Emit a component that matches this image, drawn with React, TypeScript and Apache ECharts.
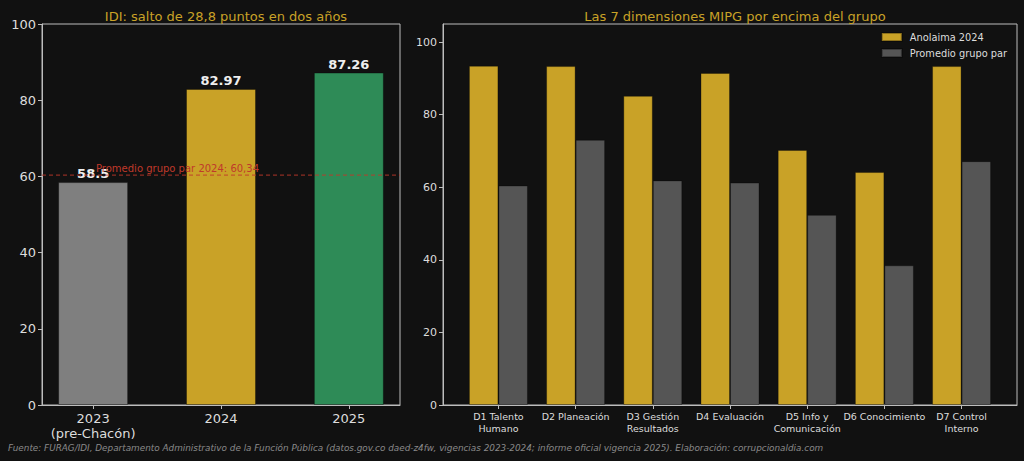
import React, { useEffect, useRef } from "react";
import * as echarts from "echarts";

const yearLabels = ["2023\n(pre-Chacón)", "2024", "2025"];
const idiValues = [58.5, 82.97, 87.26];
const idiColors = ["#7f7f7f", "#c9a227", "#2e8b57"];
const peerAverage2024 = 60.34;
const peerAverageLabel = "Promedio grupo par 2024: 60,34";

const dimensionLabels = [
  "D1 Talento\nHumano",
  "D2 Planeación",
  "D3 Gestión\nResultados",
  "D4 Evaluación",
  "D5 Info y\nComunicación",
  "D6 Conocimiento",
  "D7 Control\nInterno",
];
const anolaimaValues = [93.5, 93.4, 85.2, 91.5, 70.3, 64.2, 93.4];
const peerValues = [60.5, 73.1, 61.9, 61.3, 52.4, 38.5, 67.2];
const leftTicks = [0, 20, 40, 60, 80, 100];
const rightTicks = [0, 20, 40, 60, 80, 100];

const FONT = "DejaVu Sans";
const GOLD = "#c9a227";
const AXIS = "#bdbdbd";
const TEXT = "#dddddd";
const RED = "#c0392b";

const LEFT_MIN = -0.4;
const LEFT_MAX = 2.4;

export default function App() {
  const ref = useRef<HTMLDivElement>(null);
  useEffect(() => {
    document.body.style.margin = "0";
    document.body.style.background = "#111111";
    if (!ref.current) return;
    const chart = echarts.init(ref.current, undefined, { renderer: "svg" });
    const idx3 = idiValues.map((_, i) => i);
    const idx7 = dimensionLabels.map((_, i) => i);
    chart.setOption({
      animation: false,
      backgroundColor: "#111111",
      textStyle: { fontFamily: FONT },
      title: [
        {
          text: "IDI: salto de 28,8 puntos en dos años",
          left: 221,
          top: 5,
          textAlign: "center",
          textStyle: { color: GOLD, fontSize: 13, fontWeight: "normal", fontFamily: FONT },
        },
        {
          text: "Las 7 dimensiones MIPG por encima del grupo",
          left: 730,
          top: 5,
          textAlign: "center",
          textStyle: { color: GOLD, fontSize: 13, fontWeight: "normal", fontFamily: FONT },
        },
      ],
      legend: {
        data: ["Anolaima 2024", "Promedio grupo par"],
        orient: "vertical",
        right: 12,
        top: 27,
        itemWidth: 20,
        itemHeight: 8,
        itemGap: 6,
        icon: "rect",
        textStyle: { color: TEXT, fontSize: 9.8, fontFamily: FONT, padding: [0, 0, 0, 3] },
      },
      grid: [
        {
          left: 42,
          top: 24,
          width: 358,
          height: 381,
          show: true,
          borderColor: AXIS,
          borderWidth: 1,
          backgroundColor: "#111111",
        },
        {
          left: 443,
          top: 24,
          width: 574,
          height: 381,
          show: true,
          borderColor: AXIS,
          borderWidth: 1,
          backgroundColor: "#111111",
        },
      ],
      xAxis: [
        {
          gridIndex: 0,
          type: "value",
          min: LEFT_MIN,
          max: LEFT_MAX,
          splitLine: { show: false },
          axisLine: { show: true, onZero: false, lineStyle: { color: AXIS } },
          axisTick: { show: true, customValues: idx3, length: 4, lineStyle: { color: AXIS } },
          axisLabel: {
            customValues: idx3,
            formatter: (v: number) => yearLabels[Math.round(v)] ?? "",
            color: TEXT,
            fontSize: 13,
            lineHeight: 15,
            margin: 6,
            fontFamily: FONT,
          },
        },
        {
          gridIndex: 1,
          type: "value",
          min: -0.718,
          max: 6.718,
          splitLine: { show: false },
          axisLine: { show: true, onZero: false, lineStyle: { color: AXIS } },
          axisTick: { show: true, customValues: idx7, length: 4, lineStyle: { color: AXIS } },
          axisLabel: {
            customValues: idx7,
            formatter: (v: number) => dimensionLabels[Math.round(v)] ?? "",
            color: TEXT,
            fontSize: 9.5,
            lineHeight: 11.5,
            margin: 6,
            fontFamily: FONT,
          },
        },
      ],
      yAxis: [
        {
          gridIndex: 0,
          type: "value",
          min: 0,
          max: 100,
          splitLine: { show: false },
          axisLine: { show: true, onZero: false, lineStyle: { color: AXIS } },
          axisTick: { show: true, customValues: leftTicks, length: 4, lineStyle: { color: AXIS } },
          axisLabel: { customValues: leftTicks, color: TEXT, fontSize: 13, margin: 6, fontFamily: FONT },
        },
        {
          gridIndex: 1,
          type: "value",
          min: 0,
          max: 105,
          splitLine: { show: false },
          axisLine: { show: true, onZero: false, lineStyle: { color: AXIS } },
          axisTick: { show: true, customValues: rightTicks, length: 4, lineStyle: { color: AXIS } },
          axisLabel: { customValues: rightTicks, color: TEXT, fontSize: 11, margin: 6, fontFamily: FONT },
        },
      ],
      series: [
        {
          type: "bar",
          xAxisIndex: 0,
          yAxisIndex: 0,
          barWidth: 70,
          z: 2,
          data: idiValues.map((v, i) => ({
            value: [i, v],
            itemStyle: { color: idiColors[i] },
          })),
          itemStyle: { borderColor: "rgba(0,0,0,0.35)", borderWidth: 1 },
          label: {
            show: true,
            position: "top",
            distance: 2,
            color: "#eeeeee",
            fontWeight: "bold",
            fontSize: 13,
            fontFamily: FONT,
            formatter: (p: any) => String(p.value[1]),
          },
        },
        {
          type: "line",
          xAxisIndex: 0,
          yAxisIndex: 0,
          z: 5,
          symbol: "none",
          silent: true,
          color: RED,
          lineStyle: { color: RED, type: [4, 3], width: 1, opacity: 0.9 },
          data: [
            [LEFT_MIN, peerAverage2024],
            [LEFT_MAX, peerAverage2024],
          ],
          markLine: {
            silent: true,
            symbol: "none",
            lineStyle: { color: "rgba(0,0,0,0)", width: 0, opacity: 1 },
            label: {
              show: true,
              position: "insideStartTop",
              distance: [54, 2],
              formatter: peerAverageLabel,
              color: RED,
              opacity: 1,
              fontSize: 10,
              fontFamily: FONT,
            },
            data: [{ yAxis: peerAverage2024 }],
          },
        },
        {
          name: "Anolaima 2024",
          type: "bar",
          xAxisIndex: 1,
          yAxisIndex: 1,
          barWidth: 29.5,
          barGap: "0%",
          color: GOLD,
          itemStyle: { color: GOLD, borderColor: "rgba(0,0,0,0.3)", borderWidth: 1 },
          data: anolaimaValues.map((v, i) => [i, v]),
        },
        {
          name: "Promedio grupo par",
          type: "bar",
          xAxisIndex: 1,
          yAxisIndex: 1,
          barWidth: 29.5,
          barGap: "0%",
          color: "#555555",
          itemStyle: { color: "#555555", borderColor: "rgba(0,0,0,0.3)", borderWidth: 1 },
          data: peerValues.map((v, i) => [i, v]),
        },
      ],
      graphic: [
        {
          type: "text",
          left: 8,
          top: 443,
          style: {
            text:
              "Fuente: FURAG/IDI, Departamento Administrativo de la Función Pública (datos.gov.co daed-z4fw, vigencias 2023-2024; informe oficial vigencia 2025). Elaboración: corrupcionaldia.com",
            fill: "#8a8a8a",
            fontSize: 8.86,
            fontStyle: "italic",
            fontFamily: FONT,
          },
        },
      ],
    });
    return () => chart.dispose();
  }, []);
  return <div ref={ref} style={{ width: 1024, height: 461 }} />;
}
